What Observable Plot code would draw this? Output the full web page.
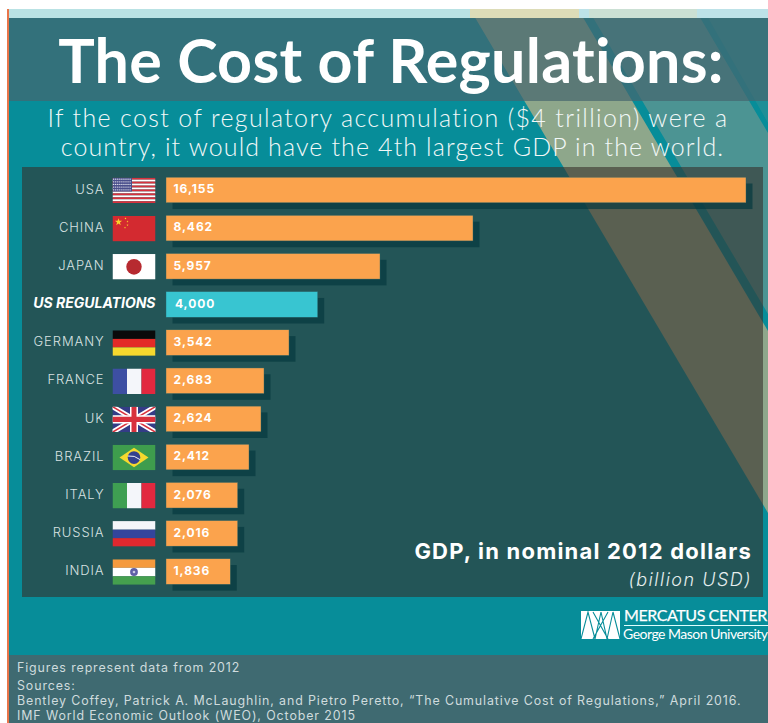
<!DOCTYPE html>
<html>
<head>
<meta charset="utf-8">
<script src="https://cdn.jsdelivr.net/npm/d3@7"></script>
<script src="https://cdn.jsdelivr.net/npm/@observablehq/plot@0.6"></script>
<style>
  html, body { margin: 0; padding: 0; background: #fff; }
  #page { position: relative; width: 768px; height: 723px; overflow: hidden; background: #fff; font-variant-ligatures: none; }
  #page > div, #page > svg { position: absolute; }
  .base { left: 9px; top: 9px; width: 759px; height: 714px; background: #078d99; }
  .accent { left: 7px; top: 9px; width: 2px; height: 714px; background: #e8754a; }
  .stripe { left: 0; top: 0; width: 768px; height: 723px; }
  .s1 { background: rgba(233,185,130,.6); clip-path: polygon(470px 9px, 578px 9px, 768px 331px, 768px 513px); }
  .s2 { background: rgba(240,165,137,.3); clip-path: polygon(588px 9px, 695px 9px, 768px 133px, 768px 314px); }
  .s3 { background: rgba(240,165,137,.1); clip-path: polygon(703px 9px, 768px 9px, 768px 123px); }
  .topband { left: 9px; top: 9px; width: 759px; height: 9px;
    background: linear-gradient(90deg, #b9e2e4 0 461px, #dddcb8 461px 570px, #bde2e8 570px 580px, #cbe0d4 580px 688px, #bde2e8 688px); }
  .header { left: 9px; top: 18px; width: 759px; height: 83px; background: rgba(70,101,109,.7); }
  .panel { left: 22px; top: 167px; width: 741px; height: 430px; background: rgba(55,48,43,.6); }
  .footer { left: 9px; top: 655px; width: 759px; height: 68px; background: #3f6a71; }
  .title { left: 0; top: 18px; width: 782px; text-align: center; font: 700 61px/83px Lato, sans-serif; color: #fff; white-space: nowrap; letter-spacing: .28px; }
  .sub { left: 0; text-align: center; font: 300 25px/30px Lato, sans-serif; color: #f2f8f8; white-space: nowrap; letter-spacing: 1.12px; }
  .note1 { right: 16px; top: 538px; font: 700 22px/26px Inter, sans-serif; color: #fff; letter-spacing: 1.2px; white-space: nowrap; }
  .note2 { right: 16px; top: 569px; font: italic 300 18px/22px Inter, sans-serif; color: #e6eeee; letter-spacing: 1.5px; white-space: nowrap; }
  .foot { left: 17px; font: 400 12.4px/15px Inter, sans-serif; color: #cfdcde; letter-spacing: .9px; white-space: nowrap; }
  .lg1 { left: 624px; top: 606px; font: 400 16px/18px Lato, sans-serif; color: #fff; white-space: nowrap; letter-spacing: -.42px; -webkit-text-stroke: .25px #fff; }
  .lg2 { left: 623px; top: 627px; font: 400 14px/14px Lato, sans-serif; color: #fff; white-space: nowrap; letter-spacing: -.5px; }
  .lgrule { left: 624px; top: 625px; width: 144px; height: 1px; background: #dff; }
  .chartLabel { font-family: Inter, sans-serif; font-size: 13px; font-weight: 300; letter-spacing: .9px; fill: #d8e2e2; }
  .chartLabelStrong { font-family: Inter, sans-serif; font-size: 14px; font-weight: 700; font-style: italic; fill: #fff; }
  .chartValue { font-family: Inter, sans-serif; font-size: 12px; font-weight: 700; letter-spacing: .9px; fill: #fff; }
</style>
</head>
<body>
<div id="page">
  <div class="base"></div>
  <div class="stripe s1"></div>
  <div class="stripe s2"></div>
  <div class="stripe s3"></div>
  <div class="topband"></div>
  <div class="header"></div>
  <div class="panel"></div>
  <div class="footer"></div>
  <div class="accent"></div>
  <div class="title">The Cost of Regulations:</div>
  <div class="sub" style="top:102px;width:776px;letter-spacing:1.35px">If the cost of regulatory accumulation ($4 trillion) were a</div>
  <div class="sub" style="top:131px;width:785px">country, it would have the 4th largest GDP in the world.</div>
  <div id="chart" style="left:0;top:167px"></div>
  <div class="note1">GDP, in nominal 2012 dollars</div>
  <div class="note2">(billion USD)</div>
  <svg style="left:581px;top:611px" width="39" height="28" viewBox="0 0 39 28" role="img" aria-label="Mercatus Center logo">
    <rect width="39" height="28" fill="#fff"/>
    <path d="M0 28 L7 1 L14 28 M14 28 L20 1 L26 28 M12 1 L27 28 M27 1 L12 28 M26 28 L32 1 L39 28" fill="none" stroke="#078d99" stroke-width="1.1"/>
  </svg>
  <div class="lg1">MERCATUS CENTER</div>
  <div class="lgrule"></div>
  <div class="lg2">George Mason University</div>
  <div class="foot" style="top:660px">Figures represent data from 2012</div>
  <div class="foot" style="top:678px">Sources:</div>
  <div class="foot" style="top:693px">Bentley Coffey, Patrick A. McLaughlin, and Pietro Peretto, “The Cumulative Cost of Regulations,” April 2016.</div>
  <div class="foot" style="top:708px">IMF World Economic Outlook (WEO), October 2015</div>
</div>
<script>
// Row names and printed values
const countries = ["USA","CHINA","JAPAN","US REGULATIONS","GERMANY","FRANCE","UK","BRAZIL","ITALY","RUSSIA","INDIA"];
const gdpLabels = ["16,155","8,462","5,957","4,000","3,542","2,683","2,624","2,412","2,076","2,016","1,836"];
// Bar lengths as drawn in the reference, in billion USD on its axis (its bars are not exactly to scale with the printed figures)
const barLengths = [16155, 8551, 5961, 4225, 3426, 2730, 2646, 2312, 1997, 1997, 1791];
const highlighted = "US REGULATIONS";

const svgUri = (body) => "data:image/svg+xml," + encodeURIComponent(
  `<svg xmlns="http://www.w3.org/2000/svg" viewBox="0 0 43 25" preserveAspectRatio="none" width="43" height="25">${body}</svg>`);
const usaStripes = d3.range(13).map(i => `<rect y="${i*25/13}" width="43" height="${25/13}" fill="${i%2?'#fff':'#d8313d'}"/>`).join("");
const usaStars = d3.range(5).flatMap(r => d3.range(9).map(c => `<circle cx="${1.2+c*2.05}" cy="${1.4+r*2.6}" r=".62" fill="#fff"/>`)).join("");
const star = (x,y,r) => `<polygon fill="#f8d32a" points="${d3.range(10).map(i=>{const a=-Math.PI/2+i*Math.PI/5,q=i%2?r*.4:r;return (x+q*Math.cos(a))+","+(y+q*Math.sin(a));}).join(" ")}"/>`;
const triColV = (a,b,c) => `<rect width="14.5" height="25" fill="${a}"/><rect x="14.5" width="14.5" height="25" fill="${b}"/><rect x="29" width="14" height="25" fill="${c}"/>`;
const triColH = (a,b,c) => `<rect width="43" height="8.4" fill="${a}"/><rect y="8.4" width="43" height="8.3" fill="${b}"/><rect y="16.7" width="43" height="8.3" fill="${c}"/>`;
const flags = {
  "USA": svgUri(usaStripes + `<rect width="19.5" height="13.5" fill="#4a4f8c"/>` + usaStars),
  "CHINA": svgUri(`<rect width="43" height="25" fill="#d32a30"/>` + star(6,6,3.8) + star(13,2.5,1.1) + star(15,5.5,1.1) + star(15,9,1.1) + star(12.5,11.5,1.1)),
  "JAPAN": svgUri(`<rect width="43" height="25" fill="#fff"/><circle cx="21.5" cy="12.5" r="7.7" fill="#b72a30"/>`),
  "GERMANY": svgUri(triColH("#0a0a0a","#e32b27","#f6d92e")),
  "FRANCE": svgUri(triColV("#3d4fa3","#f4f6fa","#e2283f")),
  "UK": svgUri(`<rect width="43" height="25" fill="#343c87"/>
    <path d="M0 0L43 25M43 0L0 25" stroke="#fff" stroke-width="5"/><path d="M0 0L43 25M43 0L0 25" stroke="#d8313d" stroke-width="1.6"/>
    <path d="M21.5 0V25M0 12.5H43" stroke="#fff" stroke-width="8"/><path d="M21.5 0V25M0 12.5H43" stroke="#d8313d" stroke-width="5"/>`),
  "BRAZIL": svgUri(`<rect width="43" height="25" fill="#3e9d4d"/><polygon points="21.5,3 36,12.5 21.5,22 7,12.5" fill="#f6d92e"/><circle cx="21.5" cy="12.5" r="6.3" fill="#34408f"/><path d="M15.5 11Q22 10 27.5 14.5" stroke="#fff" stroke-width=".9" fill="none"/>`),
  "ITALY": svgUri(triColV("#3f9f52","#f4f6fa","#e2283f")),
  "RUSSIA": svgUri(triColH("#f4f6fa","#34459c","#e0282f")),
  "INDIA": svgUri(triColH("#f59a3d","#fff","#45a04e") + `<circle cx="21.5" cy="12.5" r="3.9" fill="#5f5fa6"/><circle cx="21.5" cy="12.5" r="1.3" fill="#c9c9e4"/>`)
};

const rows = countries.map((country, i) => ({country, label: gdpLabels[i], length: barLengths[i], flag: flags[country]}));
const plain = rows.filter(d => d.country !== highlighted);
const strong = rows.filter(d => d.country === highlighted);

const chart = Plot.plot({
  width: 768, height: 430,
  marginTop: 0, marginRight: 0, marginBottom: 0, marginLeft: 0,
  style: {background: "transparent", overflow: "visible"},
  x: {axis: null, domain: [0, 16155], range: [166, 746]},
  y: {axis: null, type: "band", domain: countries, range: [3.9, 423.6], paddingInner: 0.33, paddingOuter: 0.165, round: false},
  marks: [
    Plot.barX(rows, {x: "length", y: "country", dx: 6.5, dy: 6.3, fill: "#06393e", fillOpacity: 0.7}),
    Plot.barX(rows, {x: "length", y: "country", fill: d => d.country === highlighted ? "#38c5d1" : "#fba34d", stroke: "#2b6468", strokeWidth: 0.4}),
    Plot.text(plain, {x: () => 0, y: "country", text: "country", textAnchor: "end", dx: -62, dy: -1, className: "chartLabel"}),
    Plot.text(strong, {x: () => 0, y: "country", text: "country", textAnchor: "end", dx: -11, dy: -1, className: "chartLabelStrong"}),
    Plot.image(plain, {x: () => 0, y: "country", src: "flag", width: 43, height: 25.5, dx: -32.5, dy: 0, preserveAspectRatio: "none"}),
    Plot.text(plain, {x: () => 0, y: "country", text: "label", textAnchor: "start", dx: 7, dy: -1, className: "chartValue"}),
    Plot.text(strong, {x: () => 0, y: "country", text: "label", textAnchor: "start", dx: 8.5, dy: -1, className: "chartValue"})
  ]
});
document.getElementById("chart").append(chart);
</script>
</body>
</html>
